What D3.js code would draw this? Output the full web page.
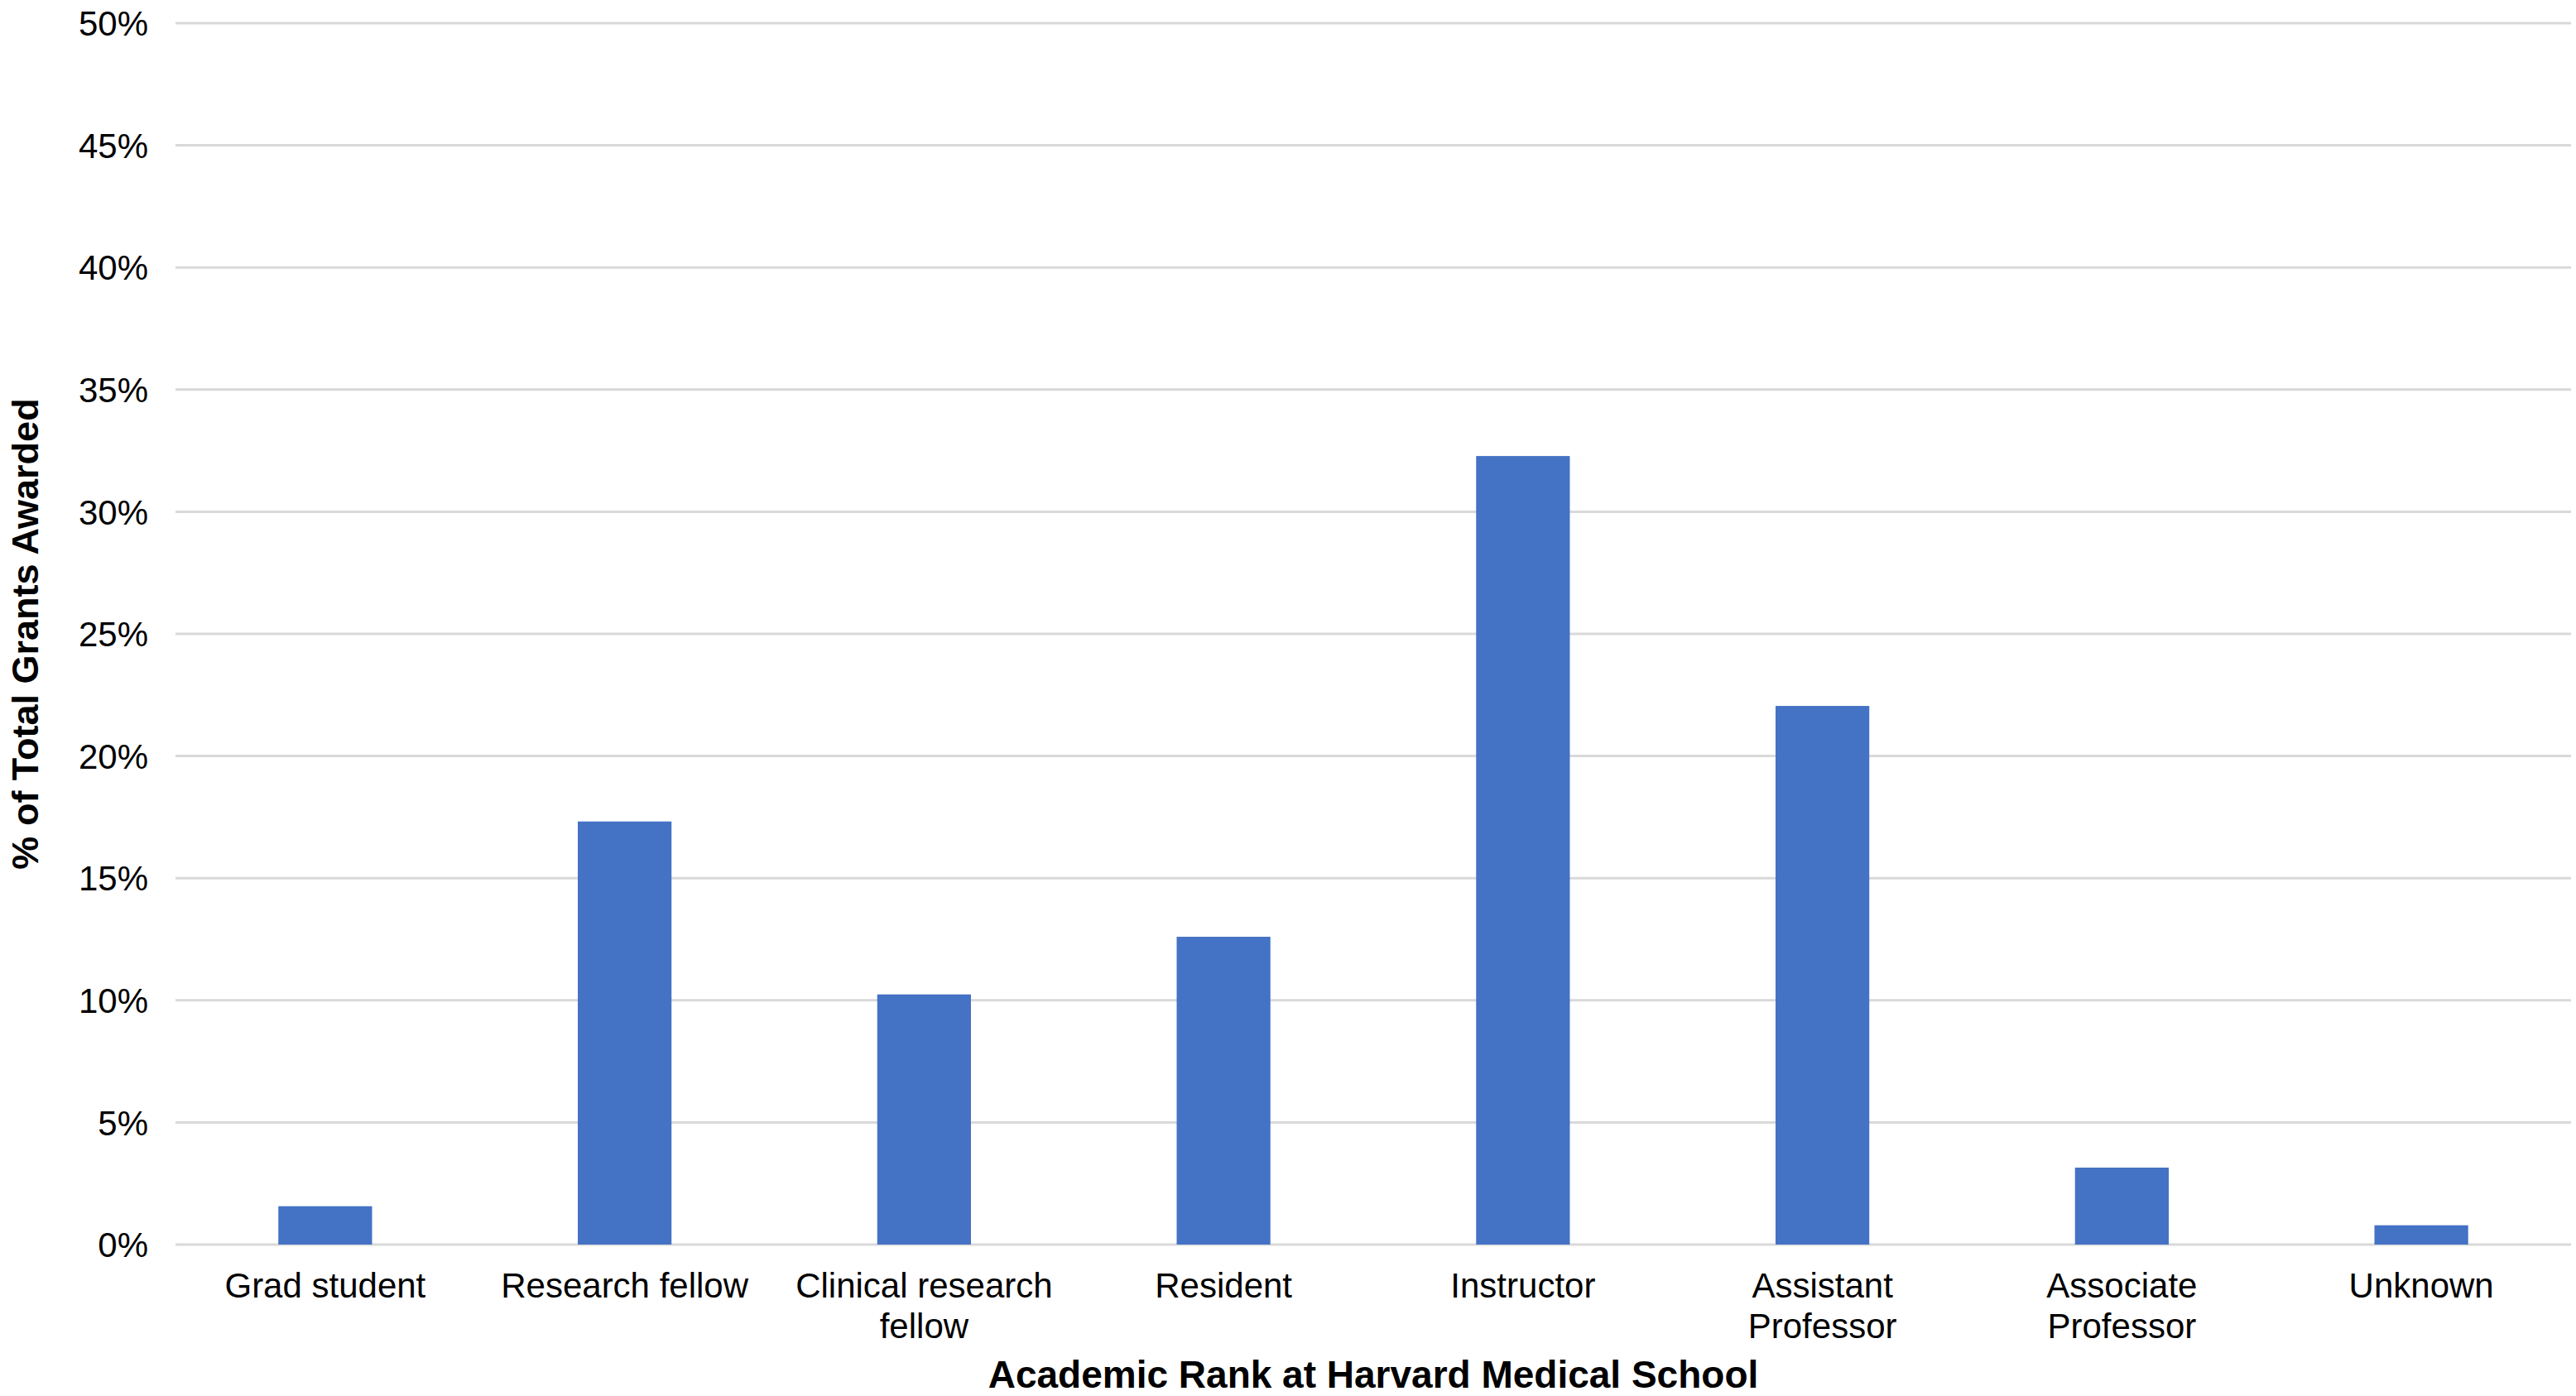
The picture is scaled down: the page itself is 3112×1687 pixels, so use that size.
<!DOCTYPE html>
<html>
<head>
<meta charset="utf-8">
<script src="https://cdn.jsdelivr.net/npm/d3@7"></script>
<style>
  html, body { margin: 0; padding: 0; background: #ffffff; }
  svg { display: block; }
  text { font-family: "Liberation Sans", Arial, Helvetica, sans-serif; fill: #000; }
</style>
</head>
<body>
<div id="chart"></div>
<script>
// ---- data ----
const categories = ["Grad student", "Research fellow", "Clinical research fellow", "Resident",
                    "Instructor", "Assistant Professor", "Associate Professor", "Unknown"];
const values = [1.57, 17.32, 10.24, 12.60, 32.28, 22.05, 3.15, 0.79];   // % of total grants
const yTicks = [0, 5, 10, 15, 20, 25, 30, 35, 40, 45, 50];
const yTitle = "% of Total Grants Awarded";
const xTitle = "Academic Rank at Harvard Medical School";

// ---- layout ----
const W = 3112, H = 1687;
const margin = { left: 212, right: 6, top: 28, bottom: 183 };
const plotW = W - margin.left - margin.right;
const plotH = H - margin.top - margin.bottom;

const svg = d3.select("#chart").append("svg").attr("width", W).attr("height", H);
const g = svg.append("g").attr("transform", `translate(${margin.left},${margin.top})`);

const x = d3.scaleBand().domain(categories).range([0, plotW]).paddingInner(0.687).paddingOuter(0.3435);
const y = d3.scaleLinear().domain([0, 50]).range([plotH, 0]);

// gridlines
g.append("g").selectAll("line").data(yTicks).join("line")
  .attr("x1", 0).attr("x2", plotW)
  .attr("y1", d => y(d)).attr("y2", d => y(d))
  .attr("stroke", "#d9d9d9").attr("stroke-width", 3);

// y axis labels
const yAxis = d3.axisLeft(y).tickValues(yTicks).tickFormat(d => d + "%").tickSize(0).tickPadding(33);
const yg = g.append("g").call(yAxis);
yg.select(".domain").remove();
yg.selectAll("text").style("font-size", "42px").style("font-family", "'Liberation Sans', Arial, sans-serif").attr("fill", "#000").attr("dy", "0.35em");

// bars
g.append("g").selectAll("rect").data(categories).join("rect")
  .attr("x", d => x(d))
  .attr("width", x.bandwidth())
  .attr("y", (d, i) => y(values[i]))
  .attr("height", (d, i) => y(0) - y(values[i]))
  .attr("fill", "#4472C4");

// x axis labels (wrapped)
const xAxis = d3.axisBottom(x).tickSize(0).tickPadding(0);
const xg = g.append("g").attr("transform", `translate(0,${plotH})`).call(xAxis);
xg.select(".domain").remove();
xg.selectAll("text").each(function(d) {
  const t = d3.select(this);
  t.text(null).attr("y", 0).attr("dy", null)
    .style("font-size", "42px").style("font-family", "'Liberation Sans', Arial, sans-serif").attr("fill", "#000");
  const words = d.split(" ");
  const maxW = 340;
  let lines = [], cur = [];
  const probe = t.append("tspan");
  words.forEach(w => {
    const trial = cur.concat([w]).join(" ");
    probe.text(trial);
    if (probe.node().getComputedTextLength() > maxW && cur.length) { lines.push(cur.join(" ")); cur = [w]; }
    else cur.push(w);
  });
  lines.push(cur.join(" "));
  probe.remove();
  lines.forEach((ln, i) => {
    t.append("tspan").attr("x", 0).attr("y", 64 + i * 49).text(ln);
  });
});

// axis titles
svg.append("text")
  .attr("x", margin.left + plotW / 2).attr("y", 1677)
  .attr("text-anchor", "middle")
  .style("font-size", "46px").style("font-weight", "bold")
  .text(xTitle);

svg.append("text")
  .attr("transform", `translate(46,${margin.top + plotH / 2}) rotate(-90)`)
  .attr("text-anchor", "middle")
  .style("font-size", "45px").style("font-weight", "bold")
  .text(yTitle);
</script>
</body>
</html>
